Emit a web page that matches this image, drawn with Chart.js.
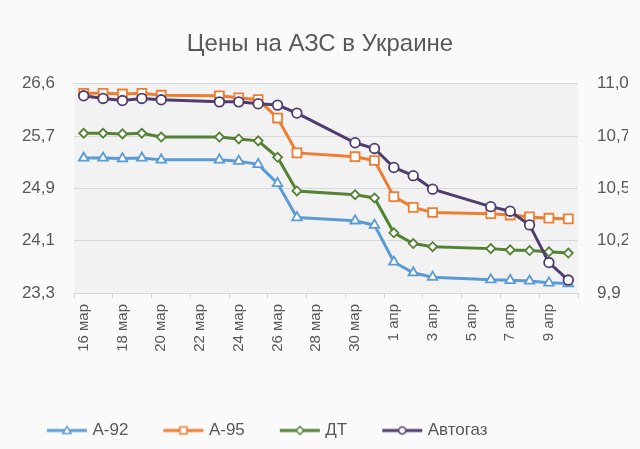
<!DOCTYPE html>
<html>
<head>
<meta charset="utf-8">
<script src="https://cdn.jsdelivr.net/npm/chart.js@4"></script>
<style>
  html, body { margin: 0; padding: 0; background: #FAFAFA; }
  #wrap { width: 640px; height: 449px; position: relative; }
</style>
</head>
<body>
<div id="wrap"><canvas id="fuelChart"></canvas></div>
<script>
// даты (выходные без данных)
const days = [
    '16 мар', '17 мар', '18 мар', '19 мар', '20 мар', '21 мар', '22 мар',
    '23 мар', '24 мар', '25 мар', '26 мар', '27 мар', '28 мар', '29 мар',
    '30 мар', '31 мар', '1 апр', '2 апр', '3 апр', '4 апр', '5 апр',
    '6 апр', '7 апр', '8 апр', '9 апр', '10 апр'
];

const a92 = [25.38, 25.38, 25.37, 25.38, 25.35, null, null, 25.35, 25.33, 25.28, 24.98, 24.44, null, null,
    24.39, 24.32, 23.74, 23.57, 23.50, null, null, 23.46, 23.45, 23.44, 23.41, 23.40];
const a95 = [26.40, 26.40, 26.39, 26.40, 26.37, null, null, 26.36, 26.33, 26.30, 26.01, 25.46, null, null,
    25.40, 25.34, 24.77, 24.60, 24.52, null, null, 24.50, 24.48, 24.45, 24.43, 24.42];
const dt = [25.77, 25.77, 25.76, 25.77, 25.71, null, null, 25.71, 25.68, 25.65, 25.39, 24.86, null, null,
    24.80, 24.75, 24.20, 24.03, 23.98, null, null, 23.95, 23.93, 23.92, 23.90, 23.88];
const autogas = [10.937, 10.923, 10.912, 10.923, 10.916, null, null, 10.905, 10.905, 10.895, 10.888, 10.846, null, null,
    10.69, 10.66, 10.56, 10.517, 10.446, null, null, 10.354, 10.33, 10.258, 10.06, 9.968];

const leftMin = 23.25, leftMax = 26.55, leftStep = 0.825;
const rightMin = 9.9, rightMax = 11.0, rightStep = 0.275;

const textColor = '#595959';
const gridColor = '#D9D9D9';

Chart.defaults.font.family = "'Liberation Sans', Arial, sans-serif";
Chart.defaults.color = textColor;

function fmt(v) {
    return (Math.round(v * 10 + 1e-6) / 10).toFixed(1).replace('.', ',');
}

// иконка легенды: линия с маркером
function legendIcon(color, style) {
    const c = document.createElement('canvas');
    c.width = 72;
    c.height = 14;
    const ctx = c.getContext('2d');
    ctx.strokeStyle = color;
    ctx.lineWidth = 3;
    ctx.beginPath();
    ctx.moveTo(30, 7);
    ctx.lineTo(70, 7);
    ctx.stroke();
    const cx = 50, cy = 7;
    ctx.fillStyle = '#FFFFFF';
    ctx.lineWidth = 1.5;
    ctx.beginPath();
    if (style === 'triangle') {
        ctx.moveTo(cx, cy - 4); ctx.lineTo(cx + 4, cy + 3); ctx.lineTo(cx - 4, cy + 3); ctx.closePath();
    } else if (style === 'rect') {
        ctx.rect(cx - 3.5, cy - 3.5, 7, 7);
    } else if (style === 'rectRot') {
        ctx.moveTo(cx, cy - 4); ctx.lineTo(cx + 4, cy); ctx.lineTo(cx, cy + 4); ctx.lineTo(cx - 4, cy); ctx.closePath();
    } else {
        ctx.arc(cx, cy, 3.5, 0, Math.PI * 2);
    }
    ctx.fill();
    ctx.stroke();
    return c;
}

const plotBg = {
    id: 'plotBg',
    beforeDraw(chart) {
        const { ctx, chartArea: a } = chart;
        ctx.save();
        ctx.fillStyle = '#F2F2F2';
        ctx.fillRect(a.left, a.top, a.width, a.height);
        ctx.restore();
    }
};

function series(label, data, color, style, radius, axis, order) {
    return {
        label, data,
        yAxisID: axis,
        order,
        borderColor: color,
        backgroundColor: '#FFFFFF',
        borderWidth: 3,
        pointStyle: style,
        pointRadius: radius,
        pointBorderWidth: 1.8,
        pointBackgroundColor: '#FFFFFF',
        pointBorderColor: color,
        spanGaps: true,
        tension: 0,
        _icon: legendIcon(color, style)
    };
}

const datasets = [
    series('А-92', a92, '#5B9BD5', 'triangle', 5.5, 'y', 3),
    series('А-95', a95, '#ED7D31', 'rect', 6.3, 'y', 2),
    series('ДТ', dt, '#548235', 'rectRot', 4.5, 'y', 1),
    series('Автогаз', autogas, '#4F3D6E', 'circle', 4.8, 'y1', 0)
];

new Chart(document.getElementById('fuelChart'), {
    type: 'line',
    data: { labels: days, datasets },
    plugins: [plotBg],
    options: {
        responsive: true,
        maintainAspectRatio: false,
        animation: false,
        layout: { padding: { left: 12, right: 12, top: 0, bottom: 0 } },
        plugins: {
            tooltip: { enabled: false },
            title: {
                display: true,
                text: 'Цены на АЗС в Украине',
                color: textColor,
                font: { size: 24, weight: 'normal' },
                padding: { top: 30, bottom: 25 }
            },
            legend: {
                position: 'bottom',
                align: 'start',
                labels: {
                    usePointStyle: true,
                    pointStyleWidth: 62,
                    padding: 10,
                    color: textColor,
                    font: { size: 17 },
                    generateLabels: chart => chart.data.datasets.map((ds, i) => ({
                        text: ds.label,
                        pointStyle: ds._icon,
                        fillStyle: 'transparent',
                        strokeStyle: 'transparent',
                        lineWidth: 0,
                        hidden: false,
                        datasetIndex: i,
                        fontColor: textColor
                    }))
                }
            }
        },
        scales: {
            x: {
                type: 'category',
                offset: true,
                grid: {
                    offset: true,
                    drawOnChartArea: false,
                    drawTicks: true,
                    tickLength: 5,
                    color: ctx => (ctx.type !== 'tick' || ctx.index % 2 === 0) ? gridColor : 'rgba(0,0,0,0)'
                },
                border: { display: true, color: gridColor },
                ticks: {
                    autoSkip: false,
                    minRotation: 90,
                    maxRotation: 90,
                    padding: 6,
                    color: textColor,
                    font: { size: 15 },
                    callback(v, i) { return i % 2 === 0 ? this.getLabelForValue(v) : ''; }
                },
                afterFit(scale) { scale.height = 119; }
            },
            y: {
                position: 'left',
                min: leftMin,
                max: leftMax,
                border: { display: false },
                grid: { color: gridColor, drawTicks: false },
                ticks: { stepSize: leftStep, padding: 19, color: textColor, font: { size: 17 }, callback: fmt },
                afterFit(scale) { scale.width = 62; }
            },
            y1: {
                position: 'right',
                min: rightMin,
                max: rightMax,
                border: { display: false },
                grid: { drawOnChartArea: false, drawTicks: false },
                ticks: { stepSize: rightStep, padding: 19, color: textColor, font: { size: 17 }, callback: fmt },
                afterFit(scale) { scale.width = 50; }
            }
        }
    }
});
</script>
</body>
</html>
